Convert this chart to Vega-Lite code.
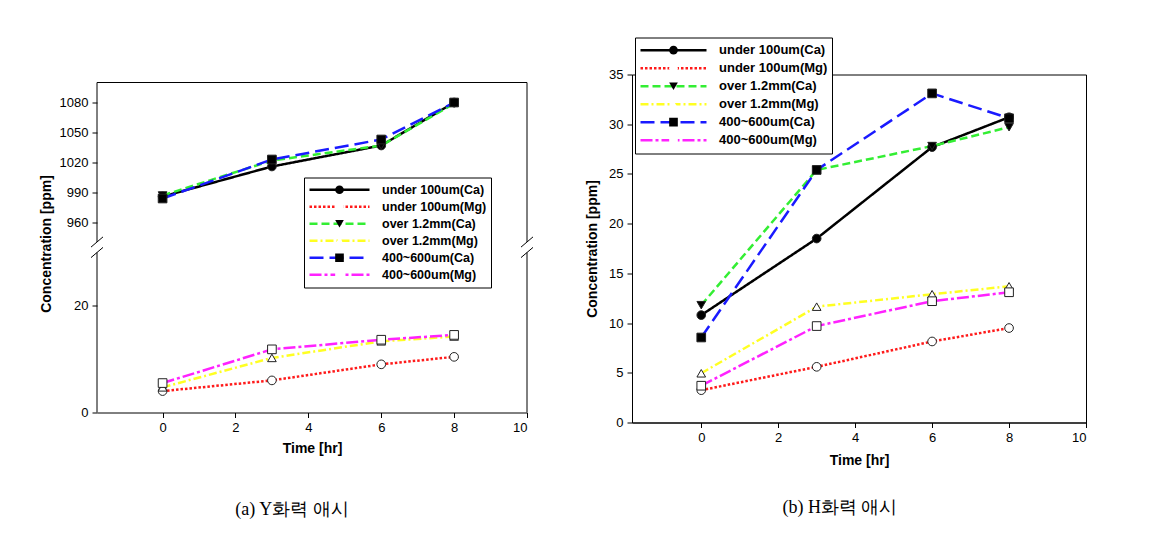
{
  "$schema": "https://vega.github.io/schema/vega-lite/v6.json",
  "autosize": {"type": "pad"},
  "padding": {"left": 39, "top": 36.5, "right": 0, "bottom": 0},
  "background": "white",
  "bounds": "flush",
  "spacing": 105,
  "config": {
    "font": "Liberation Sans",
    "view": {"stroke": "black", "strokeWidth": 1},
    "axis": {"grid": false, "domainColor": "black", "tickColor": "black", "labelColor": "black", "titleColor": "black", "labelFontSize": 13, "titleFontSize": 14, "titleFontWeight": "bold", "tickSize": 5, "labelPadding": 4, "labelFont": "Liberation Sans", "titleFont": "Liberation Sans"}
  },
  "datasets": {
    "a": [
      {"series": "under 100um(Ca)", "marker": "under 100um(Ca)", "t": 0, "v": 986},
      {"series": "under 100um(Ca)", "marker": "under 100um(Ca)", "t": 3, "v": 1016},
      {"series": "under 100um(Ca)", "marker": "under 100um(Ca)", "t": 6, "v": 1037},
      {"series": "under 100um(Ca)", "marker": "under 100um(Ca)", "t": 8, "v": 1080},
      {"series": "under 100um(Mg)", "marker": "under 100um(Mg)", "t": 0, "v": 4.0},
      {"series": "under 100um(Mg)", "marker": "under 100um(Mg)", "t": 3, "v": 6.0},
      {"series": "under 100um(Mg)", "marker": "under 100um(Mg)", "t": 6, "v": 9.0},
      {"series": "under 100um(Mg)", "marker": "under 100um(Mg)", "t": 8, "v": 10.4},
      {"series": "over 1.2mm(Ca)", "marker": "over 1.2mm(Ca)", "t": 0, "v": 987},
      {"series": "over 1.2mm(Ca)", "marker": "over 1.2mm(Ca)", "t": 3, "v": 1022},
      {"series": "over 1.2mm(Ca)", "marker": "over 1.2mm(Ca)", "t": 6, "v": 1037},
      {"series": "over 1.2mm(Ca)", "marker": "over 1.2mm(Ca)", "t": 8, "v": 1079},
      {"series": "over 1.2mm(Mg)", "marker": "over 1.2mm(Mg)", "t": 0, "v": 4.7},
      {"series": "over 1.2mm(Mg)", "marker": "over 1.2mm(Mg)", "t": 3, "v": 10.2},
      {"series": "over 1.2mm(Mg)", "marker": "over 1.2mm(Mg)", "t": 6, "v": 13.3},
      {"series": "over 1.2mm(Mg)", "marker": "over 1.2mm(Mg)", "t": 8, "v": 14.2},
      {"series": "400~600um(Ca)", "marker": "400~600um(Ca)", "t": 0, "v": 984},
      {"series": "400~600um(Ca)", "marker": "400~600um(Ca)", "t": 3, "v": 1023},
      {"series": "400~600um(Ca)", "marker": "400~600um(Ca)", "t": 6, "v": 1043},
      {"series": "400~600um(Ca)", "marker": "400~600um(Ca)", "t": 8, "v": 1080},
      {"series": "400~600um(Mg)", "marker": "400~600um(Mg)", "t": 0, "v": 5.5},
      {"series": "400~600um(Mg)", "marker": "400~600um(Mg)", "t": 3, "v": 11.8},
      {"series": "400~600um(Mg)", "marker": "400~600um(Mg)", "t": 6, "v": 13.6},
      {"series": "400~600um(Mg)", "marker": "400~600um(Mg)", "t": 8, "v": 14.5}
    ],
    "b": [
      {"series": "under 100um(Ca)", "marker": "under 100um(Ca)", "t": 0, "v": 10.8},
      {"series": "under 100um(Ca)", "marker": "under 100um(Ca)", "t": 3, "v": 18.5},
      {"series": "under 100um(Ca)", "marker": "under 100um(Ca)", "t": 6, "v": 27.7},
      {"series": "under 100um(Ca)", "marker": "under 100um(Ca)", "t": 8, "v": 30.7},
      {"series": "under 100um(Mg)", "marker": "under 100um(Mg)", "t": 0, "v": 3.25},
      {"series": "under 100um(Mg)", "marker": "under 100um(Mg)", "t": 3, "v": 5.6},
      {"series": "under 100um(Mg)", "marker": "under 100um(Mg)", "t": 6, "v": 8.15},
      {"series": "under 100um(Mg)", "marker": "under 100um(Mg)", "t": 8, "v": 9.5},
      {"series": "over 1.2mm(Ca)", "marker": "over 1.2mm(Ca)", "t": 0, "v": 11.8},
      {"series": "over 1.2mm(Ca)", "marker": "over 1.2mm(Ca)", "t": 3, "v": 25.4},
      {"series": "over 1.2mm(Ca)", "marker": "over 1.2mm(Ca)", "t": 6, "v": 27.8},
      {"series": "over 1.2mm(Ca)", "marker": "over 1.2mm(Ca)", "t": 8, "v": 29.7},
      {"series": "over 1.2mm(Mg)", "marker": "over 1.2mm(Mg)", "t": 0, "v": 4.95},
      {"series": "over 1.2mm(Mg)", "marker": "over 1.2mm(Mg)", "t": 3, "v": 11.65},
      {"series": "over 1.2mm(Mg)", "marker": "over 1.2mm(Mg)", "t": 6, "v": 12.9},
      {"series": "over 1.2mm(Mg)", "marker": "over 1.2mm(Mg)", "t": 8, "v": 13.7},
      {"series": "400~600um(Ca)", "marker": "400~600um(Ca)", "t": 0, "v": 8.55},
      {"series": "400~600um(Ca)", "marker": "400~600um(Ca)", "t": 3, "v": 25.4},
      {"series": "400~600um(Ca)", "marker": "400~600um(Ca)", "t": 6, "v": 33.1},
      {"series": "400~600um(Ca)", "marker": "400~600um(Ca)", "t": 8, "v": 30.6},
      {"series": "400~600um(Mg)", "marker": "400~600um(Mg)", "t": 0, "v": 3.7},
      {"series": "400~600um(Mg)", "marker": "400~600um(Mg)", "t": 3, "v": 9.7},
      {"series": "400~600um(Mg)", "marker": "400~600um(Mg)", "t": 6, "v": 12.2},
      {"series": "400~600um(Mg)", "marker": "400~600um(Mg)", "t": 8, "v": 13.1}
    ]
  },
  "resolve": {"scale": {"color": "independent", "strokeDash": "independent", "shape": "independent", "fill": "independent"}},
  "hconcat": [
    {
      "width": 430,
      "height": 338,
      "view": {"stroke": null},
      "title": {"text": "(a) Y화력 애시", "orient": "bottom", "anchor": "middle", "offset": 45, "dx": -20, "font": "Liberation Serif", "fontSize": 18, "fontWeight": "normal", "color": "black"},
      "layer": [
        {
          "data": {"name": "a"},
          "mark": {"type": "line", "strokeWidth": 2.5},
          "encoding": {
            "x": {"field": "t", "type": "quantitative", "scale": {"domain": [-1.8, 10], "nice": false, "zero": false}, "axis": {"values": [0, 2, 4, 6, 8, 10], "title": "Time [hr]", "titlePadding": 7}},
            "y": {"field": "v", "type": "quantitative", "scale": {"domain": [0, 29.9, 940.5, 1108], "range": [338, 178, 167.5, 0], "nice": false, "zero": false}, "axis": {"values": [0, 20, 960, 990, 1020, 1050, 1080], "format": "d", "domain": false, "title": "Concentration [ppm]", "titlePadding": 6}},
            "color": {"field": "series", "type": "nominal",
              "scale": {"domain": ["under 100um(Ca)", "under 100um(Mg)", "over 1.2mm(Ca)", "over 1.2mm(Mg)", "400~600um(Ca)", "400~600um(Mg)"], "range": ["#000000", "#ff1a1a", "#33ee33", "#ffff22", "#1a1aff", "#ff22ff"]},
              "legend": {"orient": "none", "legendX": 207, "legendY": 103, "title": null, "symbolType": "stroke", "symbolSize": 3600, "symbolStrokeWidth": 2.5, "labelFontSize": 12.5, "labelFontWeight": "bold", "labelFont": "Liberation Sans", "labelColor": "black", "labelOffset": 11, "padding": 4, "clipHeight": 16.5, "rowPadding": 0, "strokeColor": "black", "fillColor": "white", "zindex": 0}},
            "strokeDash": {"field": "series", "type": "nominal",
              "scale": {"domain": ["under 100um(Ca)", "under 100um(Mg)", "over 1.2mm(Ca)", "over 1.2mm(Mg)", "400~600um(Ca)", "400~600um(Mg)"], "range": [[1, 0], [2.5, 2], [8, 4], [8, 3, 2, 3], [14, 6], [12, 3, 3, 3]]}}
          }
        },
        {
          "data": {"name": "a"},
          "mark": {"type": "point", "filled": true, "size": 75, "stroke": "#222222", "strokeWidth": 1, "opacity": 1},
          "encoding": {
            "x": {"field": "t", "type": "quantitative"},
            "y": {"field": "v", "type": "quantitative"},
            "shape": {"field": "marker", "type": "nominal", "sort": null,
              "scale": {"range": ["circle", "circle", "triangle-down", "triangle-up", "square", "square"]},
              "legend": {"orient": "none", "legendX": 207, "legendY": 103, "title": null, "symbolSize": 75, "symbolStrokeWidth": 1, "symbolStrokeColor": "#222222", "symbolOffset": 25.25, "labelFontSize": 12.5, "labelExpr": "''", "padding": 4, "clipHeight": 16.5, "rowPadding": 0, "zindex": 1}},
            "fill": {"field": "marker", "type": "nominal", "sort": null,
              "scale": {"range": ["#000000", "#ffffff", "#000000", "#ffffff", "#000000", "#ffffff"]}}
          }
        },
        {"data": {"values": [{}]}, "mark": {"type": "rule", "color": "black", "strokeWidth": 1}, "encoding": {"x": {"datum": -1.8, "type": "quantitative"}, "y": {"datum": 0, "type": "quantitative"}, "y2": {"datum": 29.9}}},
        {"data": {"values": [{}]}, "mark": {"type": "rule", "color": "black", "strokeWidth": 1}, "encoding": {"x": {"datum": -1.8, "type": "quantitative"}, "y": {"datum": 940.5, "type": "quantitative"}, "y2": {"datum": 1100}}},
        {"data": {"values": [{}]}, "mark": {"type": "rule", "color": "black", "strokeWidth": 1}, "encoding": {"x": {"datum": 10, "type": "quantitative"}, "y": {"datum": 0, "type": "quantitative"}, "y2": {"datum": 29.9}}},
        {"data": {"values": [{}]}, "mark": {"type": "rule", "color": "black", "strokeWidth": 1}, "encoding": {"x": {"datum": 10, "type": "quantitative"}, "y": {"datum": 940.5, "type": "quantitative"}, "y2": {"datum": 1100}}},
        {"data": {"values": [{}]}, "mark": {"type": "rule", "color": "black", "strokeWidth": 1}, "encoding": {"x": {"datum": -1.8, "type": "quantitative"}, "x2": {"datum": 10}, "y": {"datum": 1100, "type": "quantitative"}}},
        {"data": {"values": [{}]}, "mark": {"type": "point", "shape": "M-2,1.7L2,-1.7M-2,-1.8L2,-5.2", "size": 36, "filled": false, "stroke": "black", "strokeWidth": 1, "opacity": 1}, "encoding": {"x": {"datum": -1.8, "type": "quantitative"}, "y": {"datum": 29.9, "type": "quantitative"}}},
        {"data": {"values": [{}]}, "mark": {"type": "point", "shape": "M-2,1.7L2,-1.7M-2,-1.8L2,-5.2", "size": 36, "filled": false, "stroke": "black", "strokeWidth": 1, "opacity": 1}, "encoding": {"x": {"datum": 10, "type": "quantitative"}, "y": {"datum": 29.9, "type": "quantitative"}}}
      ]
    },
    {
      "width": 454,
      "height": 348,
      "title": {"text": "(b) H화력 애시", "orient": "bottom", "anchor": "middle", "offset": 31, "dx": -19, "font": "Liberation Serif", "fontSize": 18, "fontWeight": "normal", "color": "black"},
      "layer": [
        {
          "data": {"name": "b"},
          "mark": {"type": "line", "strokeWidth": 2.5},
          "encoding": {
            "x": {"field": "t", "type": "quantitative", "scale": {"domain": [-1.8, 10], "nice": false, "zero": false}, "axis": {"values": [0, 2, 4, 6, 8, 10], "title": "Time [hr]", "titlePadding": 9}},
            "y": {"field": "v", "type": "quantitative", "scale": {"domain": [0, 35], "nice": false, "zero": false}, "axis": {"values": [0, 5, 10, 15, 20, 25, 30, 35], "title": "Concentration [ppm]", "titlePadding": 9}},
            "color": {"field": "series", "type": "nominal",
              "scale": {"domain": ["under 100um(Ca)", "under 100um(Mg)", "over 1.2mm(Ca)", "over 1.2mm(Mg)", "400~600um(Ca)", "400~600um(Mg)"], "range": ["#000000", "#ff1a1a", "#33ee33", "#ffff22", "#1a1aff", "#ff22ff"]},
              "legend": {"orient": "none", "legendX": 3, "legendY": -37, "title": null, "symbolType": "stroke", "symbolSize": 4356, "symbolStrokeWidth": 2.5, "labelFontSize": 13, "labelFontWeight": "bold", "labelFont": "Liberation Sans", "labelColor": "black", "labelOffset": 11, "padding": 4, "clipHeight": 17.33, "rowPadding": 0, "strokeColor": "black", "fillColor": "white", "zindex": 0}},
            "strokeDash": {"field": "series", "type": "nominal",
              "scale": {"domain": ["under 100um(Ca)", "under 100um(Mg)", "over 1.2mm(Ca)", "over 1.2mm(Mg)", "400~600um(Ca)", "400~600um(Mg)"], "range": [[1, 0], [2.5, 2], [8, 4], [8, 3, 2, 3], [14, 6], [12, 3, 3, 3]]}}
          }
        },
        {
          "data": {"name": "b"},
          "mark": {"type": "point", "filled": true, "size": 75, "stroke": "#222222", "strokeWidth": 1, "opacity": 1},
          "encoding": {
            "x": {"field": "t", "type": "quantitative"},
            "y": {"field": "v", "type": "quantitative"},
            "shape": {"field": "marker", "type": "nominal", "sort": null,
              "scale": {"range": ["circle", "circle", "triangle-down", "triangle-up", "square", "square"]},
              "legend": {"orient": "none", "legendX": 3, "legendY": -37, "title": null, "symbolSize": 75, "symbolStrokeWidth": 1, "symbolStrokeColor": "#222222", "symbolOffset": 28, "labelFontSize": 13, "labelExpr": "''", "padding": 4, "clipHeight": 17.33, "rowPadding": 0, "zindex": 1}},
            "fill": {"field": "marker", "type": "nominal", "sort": null,
              "scale": {"range": ["#000000", "#ffffff", "#000000", "#ffffff", "#000000", "#ffffff"]}}
          }
        }
      ]
    }
  ]
}
